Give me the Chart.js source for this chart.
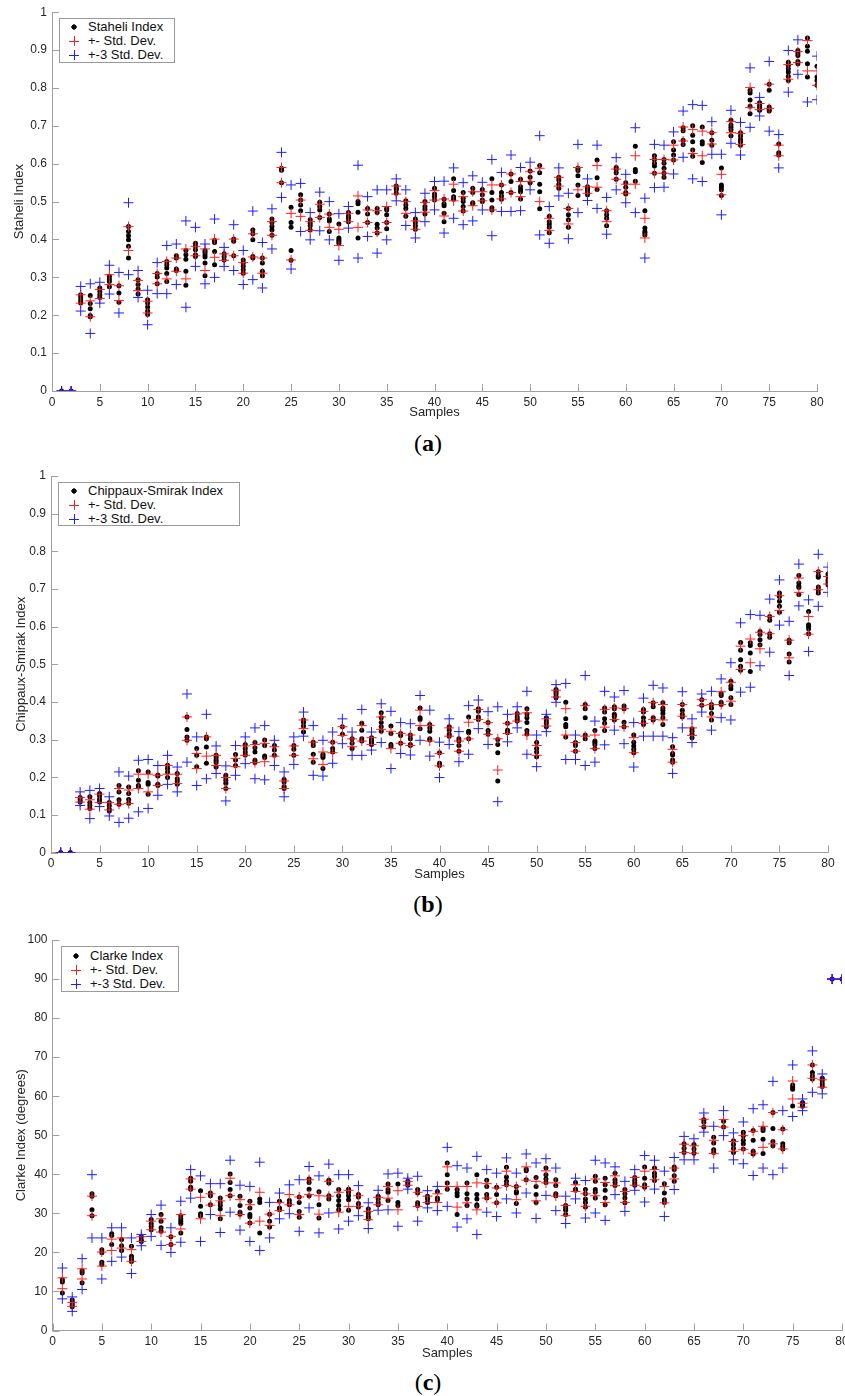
<!DOCTYPE html>
<html>
<head>
<meta charset="utf-8">
<script src="https://cdn.jsdelivr.net/npm/chart.js@4.4.1/dist/chart.umd.min.js"></script>
<style>
  html, body { margin: 0; padding: 0; background: #fff; overflow: hidden; }
  body { position: relative; width: 845px; height: 1396px; font-family: "Liberation Sans", Arial, sans-serif; }
  canvas { position: absolute; left: 0; }
  .legend { position: absolute; border: 1px solid #9a9a9a; background: #fff; font-size: 13px; color: #111; }
  .legend .row { position: absolute; left: 0; height: 14px; line-height: 14px; white-space: nowrap; }
  .legend .mk { position: absolute; top: 2px; width: 10px; height: 10px; }
  .legend .dot { background: radial-gradient(circle, #000 0 2.4px, transparent 2.9px); }
  .legend .txt { position: absolute; top: 0; }
  .caption { position: absolute; width: 120px; text-align: center; font-family: "Liberation Serif", "DejaVu Serif", serif; font-size: 24px; color: #000; }
  .caption b { font-weight: bold; }
</style>
</head>
<body>
<canvas id="chartA" width="845" height="420" style="top:0px"></canvas>
<canvas id="chartB" width="845" height="422" style="top:460px"></canvas>
<canvas id="chartC" width="880" height="436" style="top:925px"></canvas>

<div class="legend" style="left:59px; top:18px; width:114px; height:43px;">
  <div class="row" style="top:1px"><span class="mk dot" style="left:9px"></span><span class="txt" style="left:28px">Staheli Index</span></div>
  <div class="row" style="top:15px"><span class="mk" id="la1" style="left:9px"></span><span class="txt" style="left:28px">+- Std. Dev.</span></div>
  <div class="row" style="top:29px"><span class="mk" id="la2" style="left:9px"></span><span class="txt" style="left:28px">+-3 Std. Dev.</span></div>
</div>
<div class="legend" style="left:58px; top:482px; width:180px; height:42px;">
  <div class="row" style="top:1px"><span class="mk dot" style="left:10px"></span><span class="txt" style="left:29px">Chippaux-Smirak Index</span></div>
  <div class="row" style="top:15px"><span class="mk" id="lb1" style="left:10px"></span><span class="txt" style="left:29px">+- Std. Dev.</span></div>
  <div class="row" style="top:29px"><span class="mk" id="lb2" style="left:10px"></span><span class="txt" style="left:29px">+-3 Std. Dev.</span></div>
</div>
<div class="legend" style="left:61px; top:946px; width:116px; height:44px;">
  <div class="row" style="top:2px"><span class="mk dot" style="left:9px"></span><span class="txt" style="left:28px">Clarke Index</span></div>
  <div class="row" style="top:16px"><span class="mk" id="lc1" style="left:9px"></span><span class="txt" style="left:28px">+- Std. Dev.</span></div>
  <div class="row" style="top:30px"><span class="mk" id="lc2" style="left:9px"></span><span class="txt" style="left:28px">+-3 Std. Dev.</span></div>
</div>

<div class="caption" style="left:368px; top:430px;">(<b>a</b>)</div>
<div class="caption" style="left:368px; top:891px;">(<b>b</b>)</div>
<div class="caption" style="left:368px; top:1369px;">(<b>c</b>)</div>

<script>
// --- Staheli index (a) ---
const staheliDots = [
  [0], [0], [0.254,0.247,0.239,0.232], [0.252,0.231,0.217,0.199,0.196], [0.272,0.263,0.254,0.247],
  [0.303,0.296,0.289,0.275], [0.278,0.259,0.234], [0.434,0.421,0.410,0.399,0.382,0.351], [0.294,0.281,0.269,0.256], [0.241,0.232,0.222,0.211,0.202],
  [0.310,0.301,0.283], [0.342,0.333,0.325,0.310,0.289], [0.357,0.351,0.322,0.318], [0.371,0.360,0.348,0.316,0.279], [0.390,0.382,0.373,0.360,0.355],
  [0.371,0.366,0.360,0.354,0.338,0.304], [0.397,0.392,0.368,0.333], [0.362,0.355,0.346], [0.401,0.395,0.357], [0.346,0.338,0.329,0.320,0.311],
  [0.425,0.415,0.399,0.355,0.351], [0.351,0.338,0.316,0.304], [0.454,0.445,0.434,0.425,0.411], [0.588,0.583,0.550], [0.485,0.445,0.432,0.371,0.345],
  [0.518,0.504,0.491,0.476], [0.452,0.443,0.436,0.425], [0.498,0.487,0.478,0.458], [0.467,0.454,0.449,0.421], [0.441,0.404,0.399,0.395,0.390],
  [0.471,0.462,0.456,0.447], [0.500,0.494,0.472,0.404], [0.482,0.467,0.445], [0.482,0.471,0.440,0.430,0.417], [0.482,0.478,0.465,0.445,0.428],
  [0.541,0.535,0.531,0.522], [0.502,0.491,0.482,0.461], [0.454,0.445,0.436,0.427], [0.500,0.487,0.480,0.467], [0.535,0.520,0.513,0.504],
  [0.506,0.494,0.489,0.469,0.447], [0.560,0.529,0.513,0.506], [0.524,0.509,0.500,0.487,0.475], [0.535,0.524,0.497,0.494], [0.532,0.518,0.504,0.500],
  [0.560,0.524,0.504,0.484,0.478], [0.544,0.524,0.515,0.506], [0.573,0.553,0.524], [0.559,0.539,0.532,0.526,0.507], [0.581,0.564,0.550],
  [0.595,0.576,0.546,0.526,0.481], [0.461,0.447,0.440,0.432,0.418], [0.564,0.557,0.546,0.535], [0.482,0.465,0.452,0.432], [0.588,0.582,0.568,0.544,0.516],
  [0.539,0.535,0.529,0.522,0.518], [0.610,0.563,0.532], [0.476,0.465,0.456,0.436], [0.590,0.585,0.576,0.559], [0.550,0.538,0.524,0.520],
  [0.646,0.585,0.579,0.554], [0.476,0.430,0.421,0.417,0.412], [0.621,0.611,0.601,0.594,0.575], [0.611,0.601,0.588,0.575,0.564], [0.658,0.636,0.623,0.610],
  [0.695,0.687,0.662,0.651], [0.700,0.675,0.658,0.636,0.620], [0.697,0.658,0.652,0.603], [0.682,0.662,0.649], [0.589,0.544,0.538,0.531,0.516],
  [0.715,0.702,0.696,0.690,0.674], [0.682,0.673,0.664,0.658,0.649], [0.794,0.787,0.768,0.752,0.732], [0.761,0.754,0.748,0.741], [0.810,0.794,0.750,0.743,0.739],
  [0.652,0.629,0.623], [0.868,0.860,0.851,0.842,0.831,0.820], [0.899,0.892,0.886,0.870,0.864], [0.932,0.910,0.897,0.864,0.829], [0.857,0.829,0.820,0.807]
];
const staheliStd = [
  [0,0], [0,0], [0.232,0.254], [0.196,0.238], [0.244,0.268], [0.281,0.307], [0.239,0.278], [0.371,0.434], [0.265,0.292], [0.206,0.237],
  [0.283,0.310], [0.296,0.342], [0.316,0.351], [0.296,0.375], [0.357,0.382], [0.318,0.375], [0.353,0.401], [0.345,0.362], [0.357,0.401], [0.311,0.339],
  [0.354,0.415], [0.311,0.351], [0.411,0.447], [0.550,0.590], [0.346,0.469], [0.461,0.504], [0.424,0.447], [0.458,0.493], [0.432,0.467], [0.384,0.427],
  [0.447,0.469], [0.432,0.515], [0.445,0.478], [0.419,0.476], [0.445,0.487], [0.520,0.541], [0.469,0.500], [0.427,0.449], [0.472,0.498], [0.504,0.529],
  [0.462,0.507], [0.502,0.546], [0.475,0.513], [0.489,0.526], [0.502,0.526], [0.478,0.544], [0.507,0.544], [0.524,0.573], [0.513,0.553], [0.553,0.579],
  [0.500,0.588], [0.424,0.456], [0.541,0.564], [0.441,0.482], [0.531,0.590], [0.522,0.539], [0.538,0.595], [0.447,0.476], [0.559,0.586], [0.522,0.546],
  [0.546,0.621], [0.404,0.456], [0.575,0.611], [0.575,0.611], [0.610,0.649], [0.660,0.697], [0.627,0.690], [0.621,0.686], [0.652,0.682], [0.518,0.572],
  [0.682,0.711], [0.651,0.680], [0.748,0.801], [0.743,0.759], [0.746,0.810], [0.621,0.649], [0.823,0.862], [0.867,0.896], [0.845,0.925], [0.807,0.845]
];
const staheli3Std = [
  [0,0], [0,0], [0.211,0.276], [0.152,0.283], [0.232,0.287], [0.256,0.332], [0.206,0.313], [0.307,0.497], [0.247,0.318], [0.175,0.266],
  [0.257,0.339], [0.257,0.384], [0.281,0.388], [0.221,0.449], [0.329,0.432], [0.283,0.388], [0.300,0.454], [0.329,0.379], [0.318,0.439], [0.281,0.371],
  [0.294,0.475], [0.272,0.392], [0.375,0.481], [0.511,0.630], [0.322,0.544], [0.421,0.548], [0.399,0.471], [0.423,0.525], [0.399,0.500], [0.345,0.468],
  [0.430,0.487], [0.351,0.596], [0.408,0.513], [0.364,0.531], [0.399,0.531], [0.502,0.560], [0.437,0.531], [0.404,0.471], [0.447,0.522], [0.478,0.553],
  [0.417,0.554], [0.456,0.589], [0.439,0.550], [0.449,0.568], [0.478,0.551], [0.410,0.611], [0.474,0.577], [0.474,0.623], [0.476,0.590], [0.531,0.604],
  [0.412,0.674], [0.390,0.487], [0.515,0.589], [0.402,0.522], [0.471,0.651], [0.503,0.560], [0.482,0.649], [0.414,0.511], [0.531,0.616], [0.497,0.572],
  [0.471,0.695], [0.351,0.509], [0.537,0.651], [0.538,0.649], [0.573,0.684], [0.617,0.739], [0.560,0.756], [0.553,0.754], [0.625,0.711], [0.465,0.625],
  [0.654,0.741], [0.623,0.709], [0.696,0.853], [0.726,0.775], [0.686,0.870], [0.589,0.677], [0.789,0.899], [0.836,0.927], [0.763,null], [0.769,0.884]
];

// --- Chippaux-Smirak index (b) ---
const chippauxDots = [
  [0], [0], [0.146,0.140,0.134], [0.148,0.133,0.125,0.117], [0.157,0.150,0.141,0.134],
  [0.133,0.124,0.115,0.110], [0.178,0.161,0.140,0.128], [0.174,0.157,0.141,0.131], [0.217,0.192,0.178,0.174], [0.214,0.186,0.181,0.155],
  [0.206,0.203,0.181,0.178], [0.232,0.223,0.214,0.199], [0.210,0.196,0.190,0.181], [0.360,0.327,0.307,0.298], [0.276,0.258,0.228],
  [0.307,0.302,0.280,0.237], [0.258,0.252,0.245,0.239,0.227], [0.205,0.199,0.192,0.184,0.170], [0.260,0.246,0.231], [0.287,0.276,0.267,0.259],
  [0.292,0.278,0.267,0.245,0.239], [0.299,0.284,0.256,0.252], [0.284,0.272,0.258], [0.194,0.187,0.175,0.170], [0.284,0.274,0.258],
  [0.352,0.345,0.336,0.320], [0.293,0.284,0.261,0.240], [0.261,0.256,0.252,0.223], [0.293,0.276,0.267], [0.334,0.314],
  [0.302,0.290,0.276], [0.343,0.325,0.302,0.296], [0.305,0.299,0.292,0.287], [0.371,0.358,0.345,0.334,0.322], [0.336,0.316,0.287,0.281],
  [0.316,0.311,0.290], [0.312,0.302,0.287,0.284], [0.384,0.358,0.353,0.329], [0.340,0.331,0.322,0.302,0.299], [0.265,0.237,0.231],
  [0.334,0.325,0.314,0.309], [0.302,0.296,0.284,0.269], [0.360,0.322,0.318,0.302], [0.382,0.375,0.360,0.353], [0.345,0.324,0.314],
  [0.300,0.287,0.265,0.190], [0.343,0.325,0.318], [0.369,0.360,0.353,0.349], [0.382,0.368,0.358,0.345,0.324,0.315], [0.292,0.276,0.267,0.254],
  [0.358,0.349,0.343,0.334], [0.433,0.428,0.422,0.415,0.411], [0.399,0.355,0.340,0.334,0.307], [0.292,0.284,0.269], [0.393,0.382,0.358,0.312,0.302],
  [0.324,0.296,0.292,0.287,0.276], [0.384,0.373,0.355,0.343,0.324], [0.387,0.382,0.367,0.362,0.352], [0.389,0.382,0.346,0.334], [0.312,0.293,0.283,0.274,0.265],
  [0.380,0.373,0.358,0.347,0.340], [0.398,0.387,0.358,0.352], [0.398,0.384,0.378,0.369,0.358,0.340], [0.281,0.263,0.259,0.246,0.240], [0.393,0.378,0.367,0.360],
  [0.329,0.322,0.314,0.305], [0.406,0.391], [0.393,0.384,0.369,0.352], [0.422,0.417,0.399,0.393], [0.455,0.442,0.435,0.411,0.393],
  [0.558,0.537,0.512,0.495,0.484], [0.557,0.550,0.530,0.481], [0.587,0.579,0.565,0.552], [0.627,0.617,0.581,0.572], [0.689,0.680,0.667,0.654,0.638],
  [0.564,0.557,0.527,0.506], [0.736,0.716,0.708,0.704,0.685], [0.640,0.605,0.601,0.594,0.581], [0.746,0.735,0.731,0.705,0.698,0.689], [0.740,0.733,0.724,0.717,0.711]
];
const chippauxStd = [
  [0,0], [0,0], [0.134,0.146], [0.115,0.140], [0.133,0.155], [0.113,0.133], [0.128,0.170], [0.130,0.166], [0.170,0.208], [0.161,0.208],
  [0.178,0.205], [0.208,0.231], [0.183,0.208], [0.298,0.360], [0.223,0.263], [0.256,0.307], [0.231,0.258], [0.170,0.199], [0.228,0.250], [0.258,0.283],
  [0.239,0.287], [0.241,0.290], [0.256,0.281], [0.170,0.190], [0.258,0.283], [0.329,0.352], [0.249,0.293], [0.234,0.267], [0.265,0.293], [0.311,0.334],
  [0.281,0.302], [0.296,0.337], [0.287,0.305], [0.327,0.360], [0.276,0.322], [0.290,0.316], [0.284,0.312], [0.337,0.378], [0.296,0.337], [0.230,0.263],
  [0.309,0.331], [0.269,0.296], [0.302,0.346], [0.353,0.380], [0.314,0.345], [0.219,0.302], [0.316,0.343], [0.349,0.368], [0.312,0.371], [0.258,0.284],
  [0.336,0.355], [0.413,0.431], [0.312,0.382], [0.269,0.292], [0.309,0.390], [0.276,0.312], [0.333,0.380], [0.353,0.384], [0.334,0.382], [0.265,0.305],
  [0.343,0.375], [0.353,0.398], [0.352,0.393], [0.240,0.274], [0.362,0.393], [0.311,0.331], [0.390,0.406], [0.360,0.393], [0.393,0.427], [0.402,0.452],
  [0.486,0.548], [0.504,0.567], [0.541,0.585], [0.581,0.627], [0.643,0.682], [0.517,0.564], [0.691,0.729], [0.580,0.627], [0.698,0.746], [0.713,0.733]
];
const chippaux3Std = [
  [0,0], [0,0], [0.125,0.161], [0.090,0.165], [0.122,0.170], [0.097,0.148], [0.080,0.214], [0.091,0.203], [0.108,0.245], [0.117,0.247],
  [0.152,0.231], [0.181,0.258], [0.161,0.227], [0.240,0.421], [0.178,0.307], [0.196,0.367], [0.210,0.283], [0.137,0.230], [0.205,0.284], [0.236,0.307],
  [0.196,0.331], [0.193,0.337], [0.231,0.298], [0.148,0.214], [0.234,0.307], [0.309,0.373], [0.205,0.337], [0.203,0.298], [0.237,0.320], [0.289,0.355],
  [0.258,0.320], [0.258,0.380], [0.272,0.320], [0.292,0.395], [0.223,0.375], [0.263,0.345], [0.259,0.342], [0.298,0.417], [0.256,0.378], [0.199,0.293],
  [0.287,0.355], [0.241,0.321], [0.261,0.390], [0.329,0.405], [0.287,0.374], [0.135,0.387], [0.294,0.367], [0.331,0.387], [0.261,0.428], [0.228,0.312],
  [0.321,0.367], [0.399,0.446], [0.247,0.449], [0.247,0.312], [0.231,0.470], [0.240,0.349], [0.286,0.428], [0.325,0.413], [0.289,0.430], [0.227,0.345],
  [0.309,0.410], [0.309,0.444], [0.309,0.437], [0.210,0.305], [0.331,0.427], [0.292,0.355], [0.373,0.421], [0.325,0.428], [0.358,0.461], [0.352,0.504],
  [0.426,0.610], [0.439,0.632], [0.496,0.630], [0.532,0.673], [0.604,0.724], [0.470,0.614], [0.655,0.766], [0.534,0.671], [0.654,0.792], [0.691,0.758]
];

// --- Clarke index (c), degrees ---
const clarkeDots = [
  [13.0,12.4,9.6], [7.8,7.2,6.6,6.1], [15.3,14.7,12.2], [35.0,34.4,30.9,29.4], [20.7,19.9,17.5,16.9],
  [24.8,24.3,22.0], [23.3,21.7,20.5], [21.6,19.0,18.3,17.7], [24.0,23.1,22.8], [28.4,27.4,26.7,25.8],
  [29.7,28.0,26.3,25.4], [24.0,22.0], [29.4,28.6,28.0,27.4,25.0], [39.0,38.2,36.7,36.2], [35.8,31.8,29.9,29.4],
  [35.2,34.5,32.2], [33.9,32.8,32.0,31.1,28.6], [40.1,37.9,36.1,34.5], [34.4,32.0,30.3,29.8], [33.1,31.4,29.7,29.1,27.5],
  [33.7,32.8,25.0], [29.8,28.0,26.5], [33.1,31.4,30.9], [33.3,32.5,32.2], [34.2,32.8,30.5,29.0],
  [38.8,37.9,36.2,34.5], [35.5,32.2,28.8], [38.5,37.8,34.5,33.7], [36.1,34.5,33.3,32.0,30.9], [36.2,35.4,34.5,33.5,30.8],
  [34.8,34.2,32.5,31.6], [31.1,30.1,29.2,28.6], [34.4,33.7,32.8,32.2], [37.5,36.1,35.4,33.3], [37.5,32.8,32.0],
  [38.2,37.8,37.2], [36.1,35.2,32.7,32.0], [34.4,33.7,32.8], [35.6,33.9,33.5], [42.9,39.9,37.8,36.2],
  [36.1,35.2,34.5,29.7], [37.8,35.0,33.7,32.0], [39.9,34.8,33.7,32.2,31.8], [38.5,36.9,34.8,33.9], [36.7,34.8,32.7],
  [41.8,39.3,38.2,37.3], [36.9,35.6,35.2,32.5], [41.3,40.9,38.6], [39.2,36.9,34.8,32.8], [41.6,39.9,38.8,37.9],
  [38.6,37.1,35.0,34.5], [32.0,31.4,30.8,29.7], [37.9,36.2,35.9], [36.1,35.0,33.7,32.8,31.6], [39.5,38.2,36.1,35.4,33.9],
  [39.0,37.3,35.9,33.9,32.2], [40.3,38.6,37.9,37.1], [36.1,35.0,33.9,32.7], [39.2,38.4,37.8,37.2], [41.9,39.0,37.3,36.7],
  [41.6,40.3,39.5,38.4], [37.6,35.2,33.5,32.8], [41.9,41.2,39.6,38.2], [47.8,46.7,45.6], [47.6,46.5,45.4],
  [54.0,53.3,52.1], [49.5,48.0,46.3,45.6], [53.6,52.1], [48.6,47.6,46.7,45.6], [50.8,49.9,48.7,47.8,46.5],
  [51.2,48.7,45.9,45.2], [51.8,51.2,49.0,45.3], [55.8,51.7,48.4,47.3], [51.6,47.8,47.1,46.5], [62.9,62.3,61.8,57.5],
  [58.4,57.8,57.4], [68.0,66.1,65.2,64.4], [64.6,64.0,63.2,62.5], [90], [90]
];
const clarkeStd = [
  [10.7,13.5], [6.2,7.2], [13.2,15.8], [29.4,34.4], [16.5,20.1], [20.5,23.4], [21.1,23.7], [17.7,20.7], [22.8,24.0], [25.8,28.0],
  [25.2,28.6], [22.0,24.1], [26.0,29.7], [36.2,38.8], [28.6,34.1], [32.1,35.0], [29.4,33.2], [34.5,39.0], [29.7,33.5], [27.5,32.2],
  [28.0,35.4], [26.9,29.8], [30.7,32.8], [32.2,34.8], [29.7,34.2], [34.8,38.6], [29.8,34.5], [34.4,38.2], [30.3,35.4], [31.8,35.9],
  [31.8,34.5], [28.4,30.5], [32.2,34.1], [33.9,36.9], [30.9,35.8], [37.2,38.2], [31.8,35.4], [32.8,34.4], [32.8,35.0], [36.9,41.9],
  [31.6,36.9], [32.7,36.9], [30.9,37.8], [33.9,37.6], [32.7,36.5], [37.1,40.8], [33.5,36.9], [38.5,41.9], [33.2,38.2], [37.8,40.9],
  [34.4,37.8], [29.4,32.0], [35.6,37.3], [31.8,35.0], [34.5,38.8], [32.8,37.9], [37.1,39.6], [32.8,35.6], [37.2,39.2], [36.9,40.8],
  [38.6,41.2], [32.7,36.9], [38.8,41.6], [45.6,47.7], [45.4,47.3], [52.3,54.1], [45.3,48.7], [52.1,54.0], [45.9,48.4], [46.3,49.9],
  [45.4,51.0], [46.9,52.3], [47.8,55.8], [46.5,51.4], [59.3,63.9], [57.2,58.2], [64.6,68.0], [62.3,64.2], [90,90], [90,90]
];
const clarke3Std = [
  [8.1,16.0], [4.9,8.6], [10.5,18.4], [23.7,39.9], [13.2,23.7], [17.7,26.3], [18.8,26.3], [14.6,23.7], [21.7,24.6], [24.1,29.7],
  [21.8,32.1], [20.0,26.3], [22.6,33.1], [33.9,41.2], [22.8,39.6], [29.7,37.6], [25.1,37.6], [30.3,43.6], [25.7,37.2], [22.8,36.9],
  [20.5,43.1], [23.7,32.8], [28.6,35.2], [29.9,37.3], [25.4,38.6], [31.4,42.0], [25.0,39.6], [30.1,42.6], [26.0,39.9], [28.0,39.9],
  [29.4,37.1], [26.1,32.7], [30.8,35.9], [30.9,40.1], [26.7,40.3], [36.2,39.0], [28.0,39.5], [31.4,35.8], [30.7,36.9], [31.8,46.9],
  [26.5,42.2], [28.6,41.6], [24.6,44.6], [30.3,41.2], [29.2,40.3], [33.7,44.2], [30.1,40.3], [35.2,45.2], [28.7,42.9], [34.6,44.0],
  [30.7,41.6], [27.4,34.4], [33.7,39.0], [28.8,38.4], [30.1,43.6], [28.2,42.9], [34.8,41.9], [30.5,38.2], [35.9,41.2], [32.9,44.8],
  [36.2,43.6], [29.2,40.8], [36.1,44.3], [43.7,49.7], [43.7,49.1], [50.8,55.7], [41.6,52.3], [49.9,56.3], [43.7,50.6], [42.7,53.4],
  [39.7,56.8], [41.6,57.8], [39.9,63.8], [41.6,56.3], [54.8,68.0], [56.3,59.3], [61.0,71.6], [60.6,65.7], [90,90], [90,90]
];

const RED = 'rgb(255,30,30)';
const BLUE = 'rgb(30,30,255)';
const AXIS = '#a0a0a0';
const TEXT = '#262626';

Chart.defaults.font.family = '"Liberation Sans", Arial, Helvetica, sans-serif';
Chart.defaults.font.size = 12;
Chart.defaults.color = TEXT;

// legend cross markers
function crossCss(color) {
  return `linear-gradient(${color},${color}) center/1px 100% no-repeat, linear-gradient(${color},${color}) center/100% 1px no-repeat`;
}
['la1','lb1','lc1'].forEach(id => document.getElementById(id).style.background = crossCss(RED));
['la2','lb2','lc2'].forEach(id => document.getElementById(id).style.background = crossCss(BLUE));

function toPoints(groups) {
  const pts = [];
  groups.forEach((vals, i) => vals.forEach(v => { if (v !== null) pts.push({x: i + 1, y: v}); }));
  return pts;
}

// MATLAB style ticks pointing into the plot
const inwardTicks = {
  id: 'inwardTicks',
  beforeDatasetsDraw(chart) {
    const {ctx, chartArea: a, scales: {x, y}} = chart;
    ctx.save();
    ctx.strokeStyle = AXIS;
    ctx.lineWidth = 1;
    ctx.beginPath();
    y.ticks.forEach(t => {
      const py = Math.round(y.getPixelForValue(t.value)) + 0.5;
      ctx.moveTo(a.left, py); ctx.lineTo(a.left + 7, py);
    });
    x.ticks.forEach(t => {
      const px = Math.round(x.getPixelForValue(t.value)) + 0.5;
      ctx.moveTo(px, a.bottom); ctx.lineTo(px, a.bottom - 7);
    });
    ctx.stroke();
    ctx.restore();
  }
};

function makeChart(id, cfg) {
  const ctx = document.getElementById(id).getContext('2d');
  return new Chart(ctx, {
    type: 'scatter',
    data: {
      datasets: [
        { label: 'index', data: toPoints(cfg.dots), order: 3, pointStyle: 'circle', pointRadius: 2.5,
          backgroundColor: '#000', borderColor: '#000', borderWidth: 0 },
        { label: '+- Std. Dev.', data: toPoints(cfg.std), order: 2, pointStyle: 'cross', pointRadius: 5,
          borderColor: RED, backgroundColor: RED, borderWidth: 1 },
        { label: '+-3 Std. Dev.', data: toPoints(cfg.std3), order: 1, pointStyle: 'cross', pointRadius: 5,
          borderColor: BLUE, backgroundColor: BLUE, borderWidth: 1 }
      ]
    },
    options: {
      responsive: false,
      animation: false,
      events: [],
      layout: { padding: cfg.padding },
      plugins: { legend: { display: false }, tooltip: { enabled: false } },
      scales: {
        x: {
          type: 'linear', min: 0, max: 80,
          grid: { display: false, drawTicks: false },
          border: { display: true, color: AXIS, width: 1 },
          ticks: { stepSize: 5, padding: 4, maxRotation: 0, autoSkip: false, color: TEXT },
          title: { display: true, text: 'Samples', color: TEXT, font: { size: 13 }, padding: 0 },
          afterFit: s => { s.height = cfg.xHeight; }
        },
        y: {
          type: 'linear', min: 0, max: cfg.yMax,
          grid: { display: false, drawTicks: false },
          border: { display: true, color: AXIS, width: 1 },
          ticks: { stepSize: cfg.yStep, padding: 5, color: TEXT, autoSkip: false,
                   callback: v => String(Math.round(v * 10) / 10) },
          title: { display: true, text: cfg.yTitle, color: TEXT, font: { size: 13 }, padding: { top: cfg.yTitlePad, bottom: 0 } },
          afterFit: s => { s.width = cfg.yWidth; }
        }
      }
    },
    plugins: [inwardTicks]
  });
}

makeChart('chartA', {
  dots: staheliDots, std: staheliStd, std3: staheli3Std,
  yMax: 1, yStep: 0.1, yTitle: 'Staheli Index',
  padding: { top: 12, right: 28, left: 0, bottom: 0 }, yWidth: 52, xHeight: 29, yTitlePad: 12
});
makeChart('chartB', {
  dots: chippauxDots, std: chippauxStd, std3: chippaux3Std,
  yMax: 1, yStep: 0.1, yTitle: 'Chippaux-Smirak Index',
  padding: { top: 16, right: 17, left: 0, bottom: 0 }, yWidth: 51, xHeight: 29.5, yTitlePad: 14
});
makeChart('chartC', {
  dots: clarkeDots, std: clarkeStd, std3: clarke3Std,
  yMax: 100, yStep: 10, yTitle: 'Clarke Index (degrees)',
  padding: { top: 15, right: 38, left: 0, bottom: 0 }, yWidth: 52.5, xHeight: 30.5, yTitlePad: 14
});
</script>
</body>
</html>
